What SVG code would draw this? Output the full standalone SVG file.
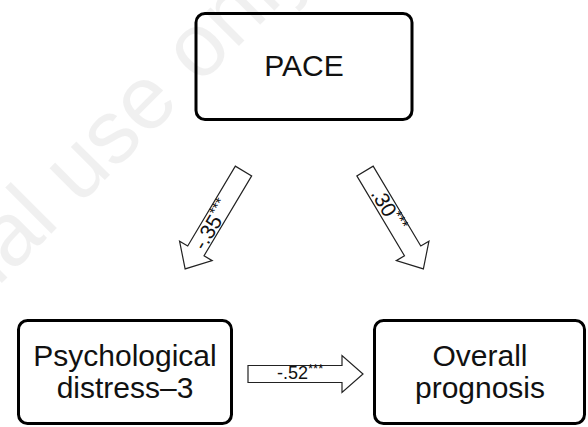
<svg xmlns="http://www.w3.org/2000/svg" width="588" height="427" viewBox="0 0 588 427">
<style>
.box{fill:#fff;stroke:#000;stroke-width:3}
.lbl{font-family:"Liberation Sans",Arial,sans-serif;font-size:30px;fill:#111;text-anchor:middle}
.arr{fill:#fff;stroke:#222;stroke-width:1.2;stroke-linejoin:miter}
.coef{font-family:"Liberation Sans",Arial,sans-serif;fill:#111}
.wm{font-family:"Liberation Sans",Arial,sans-serif;font-size:90px;fill:#000;fill-opacity:0.06}
</style>
<defs>
<path id="arrowD" d="M0,-9.5 L93,-9.5 L93,-19 L114,0 L93,19 L93,9.5 L0,9.5 Z"/>
<path id="arrowH" d="M0,-8.5 L94,-8.5 L94,-18.5 L115,0 L94,18.5 L94,8.5 L0,8.5 Z"/>
</defs>
<rect width="588" height="427" fill="#fff"/>
<g id="node-pace">
<rect class="box" x="196" y="13.5" width="216" height="106" rx="9"/>
<text class="lbl" x="304" y="76">PACE</text>
</g>
<g id="node-distress">
<rect class="box" x="18.5" y="320.5" width="213" height="103" rx="9"/>
<text class="lbl" x="125" y="366">Psychological</text>
<text class="lbl" x="125" y="398">distress–3</text>
</g>
<g id="node-prognosis">
<rect class="box" x="374.5" y="320.5" width="210" height="103" rx="9"/>
<text class="lbl" x="480" y="366">Overall</text>
<text class="lbl" x="480" y="398">prognosis</text>
</g>
<g id="connectors">
<use href="#arrowD" class="arr" transform="translate(243.5,171) rotate(120.8)"/>
<use href="#arrowD" class="arr" transform="translate(365,171) rotate(59.2)"/>
<use href="#arrowH" class="arr" transform="translate(248,374)"/>
<text class="coef" font-size="21" transform="translate(204.5,251.5) rotate(-59.2)">-.35<tspan font-size="15" dy="-7">***</tspan></text>
<text class="coef" font-size="21" transform="translate(370.3,193.5) rotate(59.2)">.30<tspan font-size="15" dy="-7">***</tspan></text>
<text class="coef" font-size="18" x="277" y="378.5">-.52<tspan font-size="13" dy="-6">***</tspan></text>
</g>
<text class="wm" transform="translate(-296,581) rotate(-45)">For personal use only</text>
</svg>
